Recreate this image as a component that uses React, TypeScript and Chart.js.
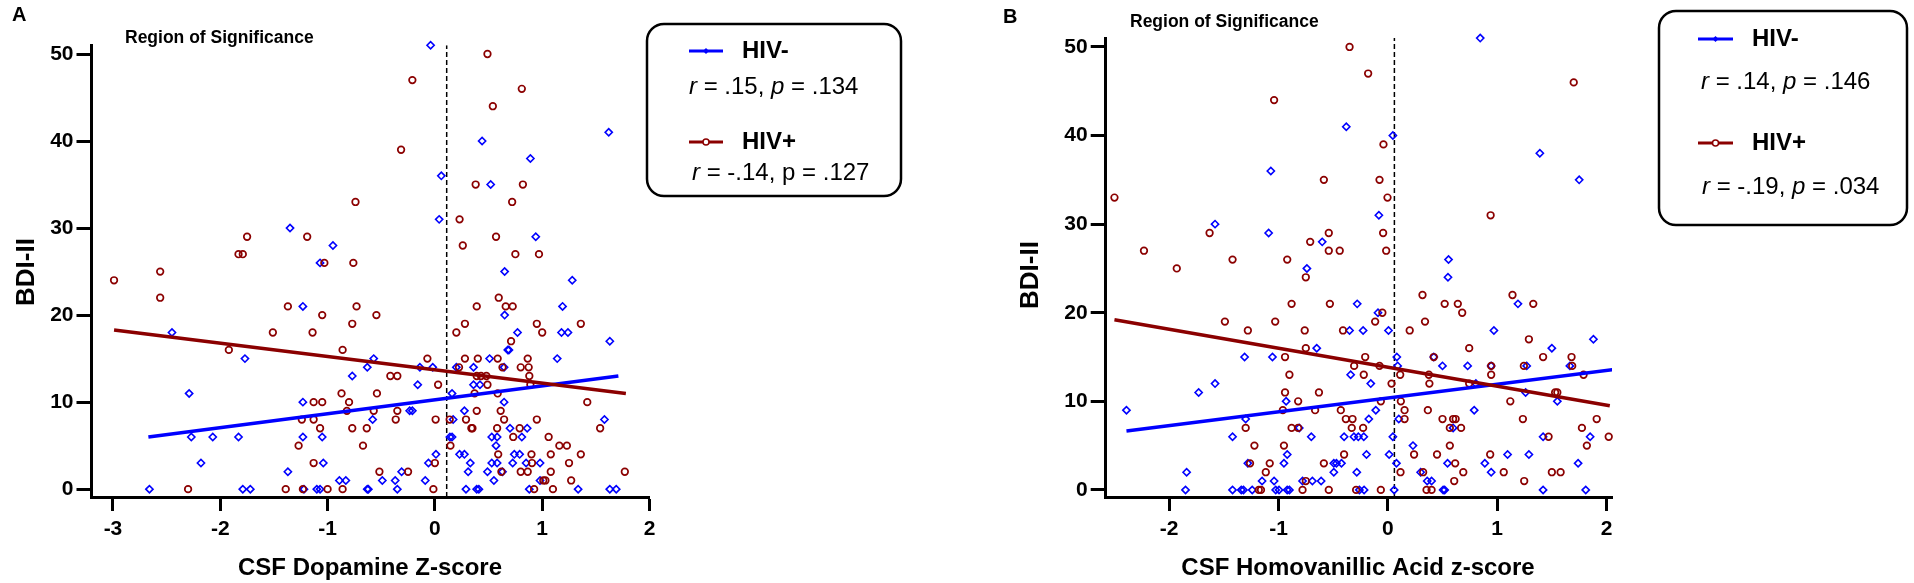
import React, { useEffect, useRef } from 'react';
import { Chart, registerables } from 'chart.js';
Chart.register(...registerables);

type Pt = [number, number];

// ---------------- Panel A data (CSF Dopamine Z-score vs BDI-II) ----------------
const A_HIV_NEG: Pt[] = [
  [-1.35, 30], [-0.95, 28], [-1.07, 26],
  [-1.23, 21], [-2.45, 18], [-1.77, 15], [-0.77, 13], [-2.29, 11], [-1.23, 10], [-2.27, 6], [-2.07, 6], [-1.83, 6],
  [-1.23, 6], [-1.05, 6], [-2.18, 3], [-1.04, 3], [-1.37, 2], [-0.89, 1], [-0.83, 1], [-2.66, 0], [-1.79, 0], [-1.72, 0],
  [-1.22, 0], [-1.10, 0], [-1.07, 0],
  [-0.04, 51], [1.62, 41], [0.44, 40], [0.89, 38], [0.06, 36], [0.52, 35], [0.04, 31], [0.94, 29],
  [0.65, 25], [1.28, 24], [1.19, 21], [0.65, 20], [0.77, 18], [1.18, 18], [1.24, 18], [1.63, 17], [0.68, 16], [0.69, 16],
  [-0.57, 15], [0.51, 15], [1.14, 15], [-0.63, 14], [-0.14, 14], [-0.02, 14], [0.20, 14], [0.36, 14], [0.645, 14],
  [-0.16, 12], [0.36, 12], [0.42, 12], [0.16, 11], [0.645, 10], [-0.235, 9], [-0.21, 9], [0.275, 9], [-0.58, 8], [0.17, 8],
  [1.58, 8], [0.70, 7], [0.86, 7], [0.14, 6], [0.16, 6], [0.53, 6], [0.58, 6], [0.81, 6], [0.57, 5], [0.01, 4], [0.23, 4],
  [0.275, 4], [0.74, 4], [0.79, 4], [-0.06, 3], [0.33, 3], [0.53, 3], [0.58, 3], [0.725, 3], [0.85, 3], [0.98, 3],
  [-0.31, 2], [0.31, 2], [0.49, 2], [0.63, 2], [-0.49, 1], [-0.37, 1], [-0.09, 1], [0.55, 1], [0.98, 1],
  [-0.63, 0], [-0.62, 0], [-0.35, 0], [0.29, 0], [0.39, 0], [0.41, 0], [0.88, 0], [1.335, 0], [1.63, 0], [1.69, 0],
];
const A_HIV_POS: Pt[] = [
  [-0.74, 33], [-1.75, 29], [-1.19, 29], [-1.83, 27], [-1.79, 27], [-1.03, 26], [-0.76, 26], [-2.56, 25],
  [-2.99, 24], [-2.56, 22], [-1.37, 21], [-0.73, 21], [-1.05, 20], [-0.77, 19], [-1.51, 18], [-1.14, 18], [-1.92, 16],
  [-0.86, 16], [-0.87, 11], [-1.13, 10], [-1.05, 10], [-0.80, 10], [-0.82, 9], [-1.24, 8], [-1.13, 8], [-1.07, 7],
  [-0.77, 7], [-1.27, 5], [-1.13, 3], [-2.30, 0], [-1.39, 0], [-1.23, 0], [-1.0, 0], [-0.86, 0],
  [0.49, 50], [-0.21, 47], [0.81, 46], [0.54, 44], [-0.315, 39], [0.38, 35], [0.82, 35], [0.72, 33], [0.23, 31],
  [0.57, 29], [0.26, 28], [0.75, 27], [0.97, 27],
  [0.595, 22], [0.39, 21], [0.66, 21], [0.725, 21], [-0.545, 20], [0.28, 19], [0.95, 19], [1.36, 19], [0.20, 18],
  [1.0, 18], [0.71, 17], [-0.07, 15], [0.28, 15], [0.40, 15], [0.585, 15], [0.865, 15], [0.225, 14], [0.63, 14],
  [0.80, 14], [0.874, 14], [-0.415, 13], [-0.35, 13], [0.39, 13], [0.43, 13], [0.48, 13], [0.88, 13], [0.03, 12],
  [0.49, 12], [0.89, 12], [-0.54, 11], [0.37, 11], [0.585, 11], [1.42, 10], [-0.57, 9], [-0.35, 9], [0.39, 9],
  [0.613, 9], [-0.365, 8], [0.007, 8], [0.138, 8], [0.29, 8], [0.645, 8], [0.95, 8], [-0.635, 7], [0.34, 7], [0.35, 7],
  [0.58, 7], [0.79, 7], [1.54, 7], [0.73, 6], [1.06, 6], [-0.67, 5], [0.145, 5], [1.16, 5], [1.23, 5], [0.59, 4],
  [0.90, 4], [1.08, 4], [1.36, 4], [0.0, 3], [0.905, 3], [1.25, 3], [-0.517, 2], [-0.25, 2], [0.62, 2], [0.80, 2],
  [0.865, 2], [1.08, 2], [1.77, 2], [1.01, 1], [1.03, 1], [1.27, 1], [-0.014, 0], [0.925, 0], [1.10, 0],
];
const A_FIT_NEG: Pt[] = [[-2.67, 6.0], [1.71, 13.0]];
const A_FIT_POS: Pt[] = [[-2.99, 18.3], [1.78, 11.0]];
const A_SIG_X = 0.11;
const A_X_TICKS = [-3, -2, -1, 0, 1, 2];

// ---------------- Panel B data (CSF Homovanillic Acid z-score vs BDI-II) ----------------
const B_HIV_NEG: Pt[] = [
  [-1.07, 36], [-1.58, 30], [-1.09, 29], [-0.60, 28], [-0.74, 25],
  [0.845, 51], [-0.38, 41], [0.046, 40], [1.39, 38], [1.75, 35], [-0.082, 31], [0.555, 26],
  [-0.65, 16], [-1.31, 15], [-1.055, 15], [-1.58, 12], [-1.73, 11], [-0.93, 10], [-2.39, 9], [-1.30, 8], [-0.81, 7],
  [-1.42, 6], [-0.70, 6], [-0.92, 4], [-1.84, 2], [-1.28, 3], [-0.95, 3], [-1.15, 1], [-1.04, 1], [-0.78, 1], [-0.69, 1],
  [-0.61, 1], [-1.85, 0], [-1.42, 0], [-1.34, 0], [-1.32, 0], [-1.24, 0], [-1.025, 0], [-0.995, 0], [-0.92, 0], [-0.90, 0],
  [0.55, 24], [-0.28, 21], [1.19, 21], [-0.09, 20], [-0.35, 18], [-0.226, 18], [0.006, 18], [0.97, 18], [1.88, 17],
  [1.50, 16], [0.082, 15], [0.42, 15], [0.09, 14], [0.50, 14], [0.73, 14], [0.945, 14], [1.27, 14], [1.665, 14],
  [-0.34, 13], [-0.156, 12], [0.805, 12], [1.26, 11], [1.55, 10], [-0.11, 9], [0.79, 9], [-0.174, 8], [0.10, 8],
  [0.597, 7], [-0.40, 6], [-0.31, 6], [-0.27, 6], [-0.22, 6], [0.046, 6], [1.42, 6], [1.85, 6], [0.23, 5], [-0.195, 4],
  [0.012, 4], [1.095, 4], [1.29, 4], [-0.494, 3], [-0.47, 3], [-0.424, 3], [0.079, 3], [0.546, 3], [0.887, 3], [1.74, 3],
  [-0.494, 2], [-0.284, 2], [0.30, 2], [0.945, 2], [0.36, 1], [0.40, 1], [-0.26, 0], [-0.217, 0], [0.058, 0], [0.506, 0],
  [0.52, 0], [1.42, 0], [1.81, 0],
];
const B_HIV_POS: Pt[] = [
  [-1.04, 44], [-0.585, 35], [-2.50, 33], [-1.63, 29], [-0.54, 29], [-2.23, 27], [-0.71, 28], [-0.54, 27], [-1.42, 26],
  [-0.92, 26], [-1.93, 25],
  [-0.35, 50], [-0.18, 47], [1.70, 46], [-0.04, 39], [-0.076, 35], [-0.003, 33], [0.94, 31], [-0.043, 29], [-0.44, 27],
  [-0.015, 27],
  [-0.75, 24], [-0.88, 21], [-0.53, 21], [-1.49, 19], [-1.03, 19], [-1.28, 18], [-0.76, 18], [-0.75, 16], [-0.94, 15],
  [-0.90, 13], [-0.94, 11], [-0.63, 11], [-0.82, 10], [-0.96, 9], [-0.665, 9], [-1.30, 7], [-0.88, 7], [-0.82, 7],
  [-1.22, 5], [-0.95, 5], [-1.26, 3], [-1.08, 3], [-0.585, 3], [-1.116, 2], [-0.75, 1], [-1.18, 0], [-1.16, 0], [-0.78, 0],
  [-0.54, 0],
  [0.317, 22], [1.14, 22], [0.52, 21], [0.64, 21], [1.33, 21], [-0.05, 20], [0.68, 20], [-0.116, 19], [0.34, 19],
  [-0.41, 18], [0.20, 18], [1.29, 17], [0.744, 16], [-0.207, 15], [0.42, 15], [1.42, 15], [1.68, 15], [-0.308, 14],
  [-0.076, 14], [0.945, 14], [1.244, 14], [1.686, 14], [-0.22, 13], [0.113, 13], [0.375, 13], [0.945, 13], [1.79, 13],
  [0.034, 12], [0.38, 12], [0.744, 12], [1.53, 11], [1.55, 11], [-0.064, 10], [0.119, 10], [1.12, 10], [-0.43, 9],
  [0.153, 9], [0.366, 9], [-0.384, 8], [-0.323, 8], [0.153, 8], [0.50, 8], [0.597, 8], [0.62, 8], [1.235, 8], [1.91, 8],
  [-0.33, 7], [-0.226, 7], [0.567, 7], [0.67, 7], [1.775, 7], [1.47, 6], [2.02, 6], [0.567, 5], [1.82, 5], [-0.40, 4],
  [0.24, 4], [0.45, 4], [0.936, 4], [0.616, 3], [0.116, 2], [0.323, 2], [0.69, 2], [1.06, 2], [1.50, 2], [1.58, 2],
  [0.607, 1], [1.247, 1], [-0.29, 0], [-0.064, 0], [0.354, 0], [0.40, 0],
];
const B_FIT_NEG: Pt[] = [[-2.39, 6.66], [2.08, 13.6]];
const B_FIT_POS: Pt[] = [[-2.5, 19.2], [2.03, 9.5]];
const B_SIG_X = 0.06;
const B_X_TICKS = [-2, -1, 0, 1, 2];

const Y_TICKS = [0, 10, 20, 30, 40, 50];

const FONT = '"Liberation Sans", Arial, Helvetica, sans-serif';
const BLUE = '#0000ff';
const RED = '#8b0000';
const H = 583;

type Seg = [string, boolean];
interface LegendCfg {
  box: [number, number, number, number];
  sampleX: [number, number];
  textX: number;
  rows: { y: number; color: string; marker: 'diamond' | 'circle'; label: string; statX: number; statY: number; stat: Seg[] }[];
}
interface PanelCfg {
  offsetX: number;
  width: number;
  neg: Pt[];
  pos: Pt[];
  fitNeg: Pt[];
  fitPos: Pt[];
  sigX: number;
  xMin: number;
  xMax: number;
  xTicks: number[];
  yMin: number;
  yMax: number;
  area: { left: number; right: number; top: number; bottom: number };
  letter: [string, number, number];
  region: [number, number];
  yTitle: [number, number];
  xTitle: [string, number, number];
  legend: LegendCfg;
}

const PANEL_A: PanelCfg = {
  offsetX: 0,
  width: 957,
  neg: A_HIV_NEG,
  pos: A_HIV_POS,
  fitNeg: A_FIT_NEG,
  fitPos: A_FIT_POS,
  sigX: A_SIG_X,
  xMin: -3.2,
  xMax: 2,
  xTicks: A_X_TICKS,
  yMin: -0.9,
  yMax: 51,
  area: { left: 91.5, right: 649.5, top: 45.3, bottom: 497 },
  letter: ['A', 12, 15],
  region: [125, 38],
  yTitle: [27, 272],
  xTitle: ['CSF Dopamine Z-score', 370, 568],
  legend: {
    box: [647, 24, 254, 172],
    sampleX: [689, 723],
    textX: 742,
    rows: [
      { y: 51, color: BLUE, marker: 'diamond', label: 'HIV-', statX: 689, statY: 87, stat: [['r', true], [' = .15, ', false], ['p', true], [' = .134', false]] },
      { y: 142, color: RED, marker: 'circle', label: 'HIV+', statX: 692, statY: 173, stat: [['r', true], [' = -.14, p = .127', false]] },
    ],
  },
};

const PANEL_B: PanelCfg = {
  offsetX: 957,
  width: 957,
  neg: B_HIV_NEG,
  pos: B_HIV_POS,
  fitNeg: B_FIT_NEG,
  fitPos: B_FIT_POS,
  sigX: B_SIG_X,
  xMin: -2.58,
  xMax: 2.05,
  xTicks: B_X_TICKS,
  yMin: -0.8,
  yMax: 51,
  area: { left: 1105.7, right: 1612, top: 38.1, bottom: 497 },
  letter: ['B', 1003, 17],
  region: [1130, 22],
  yTitle: [1031, 275],
  xTitle: ['CSF Homovanillic Acid z-score', 1358, 568],
  legend: {
    box: [1659, 11, 248, 214],
    sampleX: [1698, 1733],
    textX: 1752,
    rows: [
      { y: 39, color: BLUE, marker: 'diamond', label: 'HIV-', statX: 1701, statY: 82, stat: [['r', true], [' = .14, ', false], ['p', true], [' = .146', false]] },
      { y: 143, color: RED, marker: 'circle', label: 'HIV+', statX: 1702, statY: 187, stat: [['r', true], [' = -.19, ', false], ['p', true], [' = .034', false]] },
    ],
  },
};

function roundRectPath(ctx: CanvasRenderingContext2D, x: number, y: number, w: number, h: number, r: number) {
  ctx.beginPath();
  ctx.moveTo(x + r, y);
  ctx.lineTo(x + w - r, y);
  ctx.arcTo(x + w, y, x + w, y + r, r);
  ctx.lineTo(x + w, y + h - r);
  ctx.arcTo(x + w, y + h, x + w - r, y + h, r);
  ctx.lineTo(x + r, y + h);
  ctx.arcTo(x, y + h, x, y + h - r, r);
  ctx.lineTo(x, y + r);
  ctx.arcTo(x, y, x + r, y, r);
  ctx.closePath();
}

function makeDecorPlugin(p: PanelCfg) {
  return {
    id: 'decor',
    afterDraw(chart: any) {
      const ctx: CanvasRenderingContext2D = chart.ctx;
      const o = p.offsetX;
      ctx.save();
      ctx.fillStyle = '#000';
      ctx.textBaseline = 'middle';
      ctx.font = `bold 20px ${FONT}`;
      ctx.textAlign = 'left';
      ctx.fillText(p.letter[0], p.letter[1] - o, p.letter[2]);
      ctx.font = `bold 17.5px ${FONT}`;
      ctx.fillText('Region of Significance', p.region[0] - o, p.region[1]);
      ctx.font = `bold 24px ${FONT}`;
      ctx.textAlign = 'center';
      ctx.fillText(p.xTitle[0], p.xTitle[1] - o, p.xTitle[2]);
      ctx.save();
      ctx.translate(p.yTitle[0] - o, p.yTitle[1]);
      ctx.rotate(-Math.PI / 2);
      ctx.font = `bold 26px ${FONT}`;
      ctx.fillText('BDI-II', 0, 0);
      ctx.restore();
      const L = p.legend;
      roundRectPath(ctx, L.box[0] - o, L.box[1], L.box[2], L.box[3], 17);
      ctx.lineWidth = 2.5;
      ctx.strokeStyle = '#000';
      ctx.stroke();
      for (const row of L.rows) {
        ctx.beginPath();
        ctx.moveTo(L.sampleX[0] - o, row.y);
        ctx.lineTo(L.sampleX[1] - o, row.y);
        ctx.strokeStyle = row.color;
        ctx.lineWidth = 3;
        ctx.stroke();
        const cx = (L.sampleX[0] + L.sampleX[1]) / 2 - o;
        if (row.marker === 'diamond') {
          ctx.beginPath();
          ctx.moveTo(cx, row.y - 3);
          ctx.lineTo(cx + 3, row.y);
          ctx.lineTo(cx, row.y + 3);
          ctx.lineTo(cx - 3, row.y);
          ctx.closePath();
          ctx.fillStyle = row.color;
          ctx.fill();
        } else {
          ctx.beginPath();
          ctx.arc(cx, row.y, 3, 0, Math.PI * 2);
          ctx.fillStyle = '#fff';
          ctx.fill();
          ctx.lineWidth = 1.5;
          ctx.strokeStyle = row.color;
          ctx.stroke();
        }
        ctx.fillStyle = '#000';
        ctx.textAlign = 'left';
        ctx.font = `bold 24px ${FONT}`;
        ctx.fillText(row.label, L.textX - o, row.y);
        let x = row.statX - o;
        for (const [t, it] of row.stat) {
          ctx.font = `${it ? 'italic ' : ''}24px ${FONT}`;
          ctx.fillText(t, x, row.statY);
          x += ctx.measureText(t).width;
        }
      }
      ctx.restore();
    },
  };
}

function toXY(pts: Pt[]) {
  return pts.map(([x, y]) => ({ x, y }));
}

function Panel({ cfg }: { cfg: PanelCfg }) {
  const ref = useRef<HTMLCanvasElement>(null);
  useEffect(() => {
    if (!ref.current) return;
    const a = cfg.area;
    const o = cfg.offsetX;
    const chart = new Chart(ref.current, {
      type: 'scatter',
      data: {
        datasets: [
          {
            label: 'sig',
            data: [{ x: cfg.sigX, y: cfg.yMin }, { x: cfg.sigX, y: cfg.yMax }],
            showLine: true,
            borderColor: '#000',
            borderWidth: 1.5,
            borderDash: [5, 3],
            pointRadius: 0,
            order: 5,
          },
          {
            label: 'HIV- fit',
            data: toXY(cfg.fitNeg),
            showLine: true,
            borderColor: BLUE,
            borderWidth: 3.5,
            pointRadius: 0,
            order: 2,
          },
          {
            label: 'HIV+ fit',
            data: toXY(cfg.fitPos),
            showLine: true,
            borderColor: RED,
            borderWidth: 3.5,
            pointRadius: 0,
            order: 1,
          },
          {
            label: 'HIV-',
            data: toXY(cfg.neg),
            pointStyle: 'rectRot',
            pointRadius: 3.6,
            pointBorderWidth: 1.6,
            borderColor: BLUE,
            backgroundColor: 'rgba(0,0,0,0)',
            order: 4,
            clip: false,
          } as any,
          {
            label: 'HIV+',
            data: toXY(cfg.pos),
            pointStyle: 'circle',
            pointRadius: 3.3,
            pointBorderWidth: 1.7,
            borderColor: RED,
            backgroundColor: 'rgba(0,0,0,0)',
            order: 3,
            clip: false,
          } as any,
        ],
      },
      options: {
        animation: false,
        responsive: false,
        maintainAspectRatio: false,
        events: [],
        layout: {
          padding: { left: 0, top: a.top, right: cfg.width - (a.right - o), bottom: 0 },
        },
        plugins: { legend: { display: false }, tooltip: { enabled: false }, title: { display: false } },
        scales: {
          x: {
            type: 'linear',
            position: 'bottom',
            min: cfg.xMin,
            max: cfg.xMax,
            afterBuildTicks: (s: any) => {
              s.ticks = cfg.xTicks.map((v) => ({ value: v }));
            },
            afterFit: (s: any) => {
              s.height = H - a.bottom;
            },
            border: { display: true, color: '#000', width: 3 },
            grid: { display: true, drawOnChartArea: false, drawTicks: true, tickLength: 14, tickWidth: 3, tickColor: '#000', color: '#000' },
            ticks: {
              color: '#000',
              font: { family: FONT, size: 21, weight: 'bold' },
              padding: 6,
              autoSkip: false,
              maxRotation: 0,
              callback: (v: any) => String(v),
            },
          },
          y: {
            type: 'linear',
            position: 'left',
            min: cfg.yMin,
            max: cfg.yMax,
            afterBuildTicks: (s: any) => {
              s.ticks = Y_TICKS.map((v) => ({ value: v }));
            },
            afterFit: (s: any) => {
              s.width = a.left - o;
            },
            border: { display: true, color: '#000', width: 3 },
            grid: { display: true, drawOnChartArea: false, drawTicks: true, tickLength: 15, tickWidth: 3, tickColor: '#000', color: '#000' },
            ticks: {
              color: '#000',
              font: { family: FONT, size: 21, weight: 'bold' },
              padding: 3,
              autoSkip: false,
              callback: (v: any) => String(v),
            },
          },
        },
      } as any,
      plugins: [makeDecorPlugin(cfg)],
    });
    return () => chart.destroy();
  }, [cfg]);
  return (
    <canvas
      ref={ref}
      width={cfg.width}
      height={H}
      style={{ position: 'absolute', left: cfg.offsetX, top: 0, width: cfg.width, height: H, display: 'block' }}
    />
  );
}

export default function App() {
  return (
    <div style={{ position: 'absolute', left: 0, top: 0, width: 1914, height: H, background: '#fff', overflow: 'hidden' }}>
      <Panel cfg={PANEL_A} />
      <Panel cfg={PANEL_B} />
    </div>
  );
}
